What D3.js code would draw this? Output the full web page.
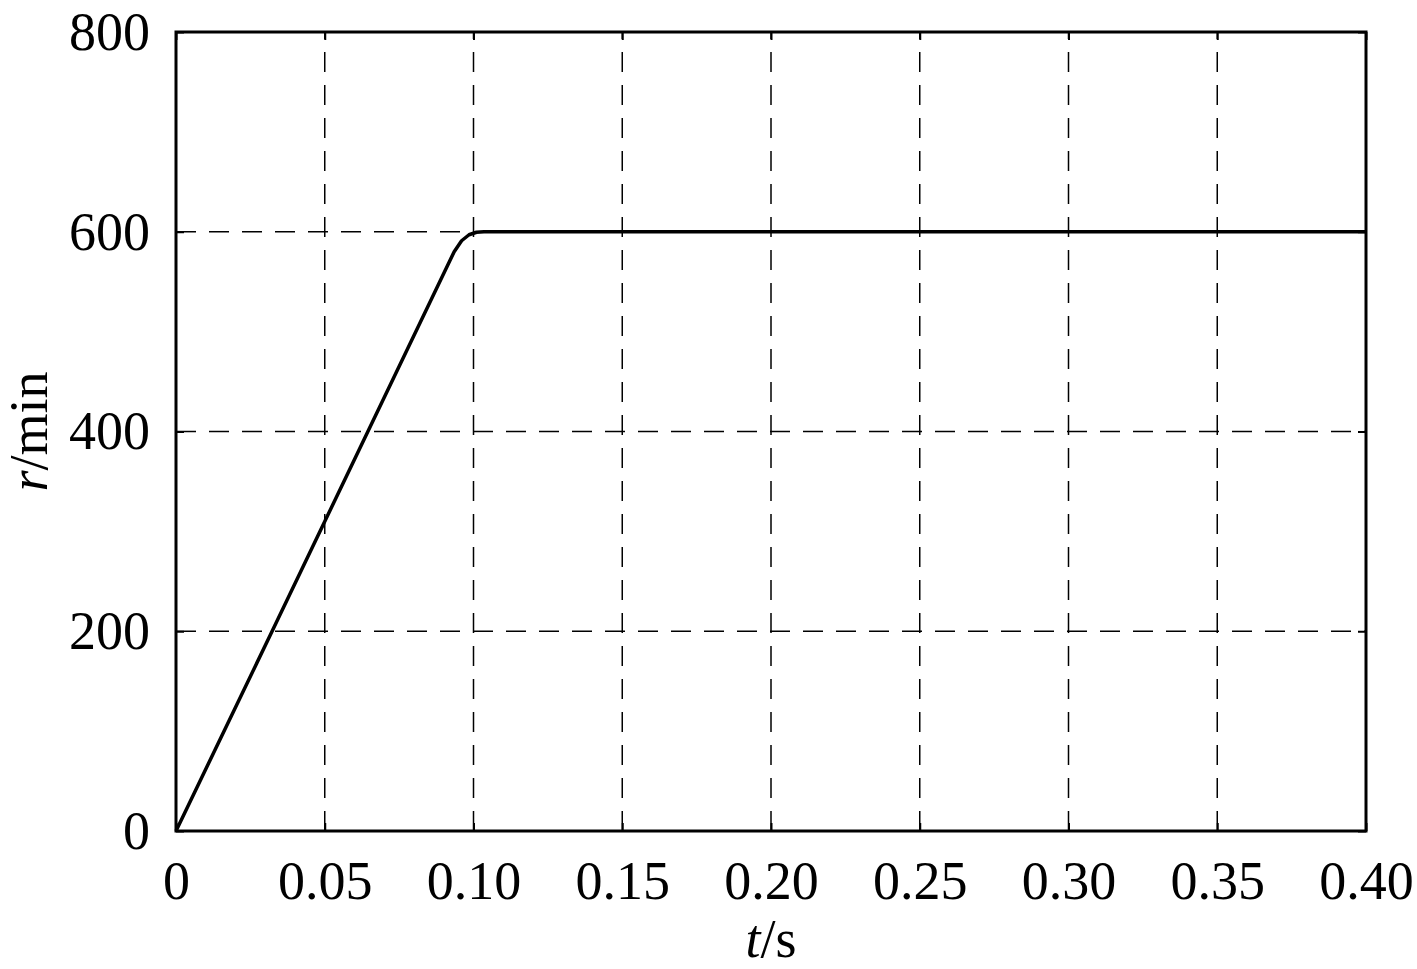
<!DOCTYPE html>
<html>
<head>
<meta charset="utf-8">
<script src="https://cdn.jsdelivr.net/npm/d3@7"></script>
<style>
  body { margin: 0; background: #fff; }
  text { font-family: "Liberation Serif", "Times New Roman", serif; fill: #000; }
</style>
</head>
<body>
<div id="chart"></div>
<script>
// Data.
const timeS = [0, 0.0323, 0.0645, 0.0935, 0.0960, 0.0985, 0.1010, 0.1035, 0.40];
const speed = [0, 200, 400, 580, 591, 597, 599.5, 600, 600];
const xTicks = [0, 0.05, 0.10, 0.15, 0.20, 0.25, 0.30, 0.35, 0.40];
const xTickLabels = ['0', '0.05', '0.10', '0.15', '0.20', '0.25', '0.30', '0.35', '0.40'];
const yTicks = [0, 200, 400, 600, 800];

// SVG constants.
const width = 1417;
const height = 969;
const margin = {left: 176, right: 51, top: 32, bottom: 138};

const x = d3.scaleLinear()
            .domain([0, 0.40])
            .range([margin.left, width - margin.right]);
const y = d3.scaleLinear()
            .domain([0, 800])
            .range([height - margin.bottom, margin.top]);

const svg = d3.select('#chart')
              .append('svg')
              .attr('width', width)
              .attr('height', height);

// Grid.
const grid = svg.append('g')
                .attr('stroke', '#000')
                .attr('stroke-width', 1.5)
                .attr('stroke-dasharray', '20,13');
grid.selectAll('.vgrid')
    .data(xTicks.slice(1, -1))
    .enter()
    .append('line')
    .attr('x1', d => x(d)).attr('x2', d => x(d))
    .attr('y1', y(0)).attr('y2', y(800));
grid.selectAll('.hgrid')
    .data(yTicks.slice(1, -1))
    .enter()
    .append('line')
    .attr('y1', d => y(d)).attr('y2', d => y(d))
    .attr('x1', x(0)).attr('x2', x(0.40));

// Axes with inward ticks.
const fontSize = 54;
svg.append('g')
   .attr('transform', 'translate(0,' + y(0) + ')')
   .call(d3.axisBottom(x).tickValues(xTicks)
           .tickFormat((d, i) => xTickLabels[i])
           .tickSize(-8).tickPadding(30));
svg.append('g')
   .attr('transform', 'translate(' + x(0) + ',0)')
   .call(d3.axisLeft(y).tickValues(yTicks)
           .tickSize(-8).tickPadding(26));
svg.append('g')
   .attr('transform', 'translate(0,' + y(800) + ')')
   .call(d3.axisTop(x).tickValues(xTicks).tickSize(-8).tickFormat(''));
svg.append('g')
   .attr('transform', 'translate(' + x(0.40) + ',0)')
   .call(d3.axisRight(y).tickValues(yTicks).tickSize(-8).tickFormat(''));

svg.selectAll('.domain').remove();
svg.selectAll('.tick line').attr('stroke', '#000').attr('stroke-width', 2);
svg.selectAll('.tick text')
   .style('font-family', '"Liberation Serif", serif')
   .style('font-size', fontSize + 'px')
   .attr('fill', '#000');

// Frame.
svg.append('rect')
   .attr('x', x(0)).attr('y', y(800))
   .attr('width', x(0.40) - x(0)).attr('height', y(0) - y(800))
   .attr('fill', 'none')
   .attr('stroke', '#000')
   .attr('stroke-width', 3);

// Curve.
const line = d3.line()
               .x((d, i) => x(timeS[i]))
               .y(d => y(d));
svg.append('path')
   .datum(speed)
   .attr('d', line)
   .attr('fill', 'none')
   .attr('stroke', '#000')
   .attr('stroke-width', 3.5)
   .attr('stroke-linejoin', 'round');

// Axis titles.
const xTitle = svg.append('text')
                  .attr('x', (x(0) + x(0.40)) / 2)
                  .attr('y', 957)
                  .attr('text-anchor', 'middle')
                  .style('font-size', fontSize + 'px');
xTitle.append('tspan').style('font-style', 'italic').text('t');
xTitle.append('tspan').text('/s');

const yTitle = svg.append('text')
                  .attr('transform', 'translate(47,' + ((y(0) + y(800)) / 2) + ') rotate(-90)')
                  .attr('text-anchor', 'middle')
                  .style('font-size', fontSize + 'px');
yTitle.append('tspan').style('font-style', 'italic').text('r');
yTitle.append('tspan').text('/min');
</script>
</body>
</html>
